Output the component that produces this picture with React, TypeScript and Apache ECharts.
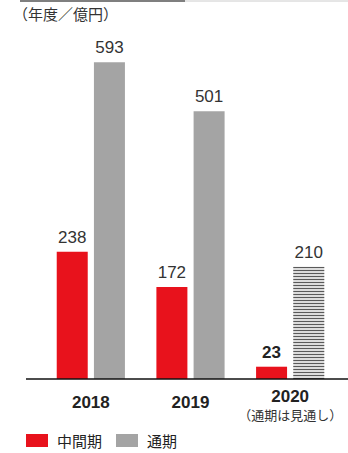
import React, { useEffect, useRef } from "react";
import * as echarts from "echarts";

const categories = ["2018", "2019", "2020"];
const interimValues = [238, 172, 23];
const fullYearValues = [593, 501, 210];
const seriesNames = ["中間期", "通期"];
const unitLabel = "（年度／億円）";
const forecastNote = "（通期は見通し）";

export default function App() {
  const ref = useRef<HTMLDivElement>(null);
  useEffect(() => {
    if (!ref.current) return;
    const chart = echarts.init(ref.current, undefined, { renderer: "svg" });
    const font = "'Noto Sans CJK JP', 'Liberation Sans', sans-serif";
    const numFont = "'Liberation Sans', Arial, sans-serif";
    chart.setOption({
      animation: false,
      textStyle: { fontFamily: font },
      graphic: [
        { type: "line", shape: { x1: 20, y1: 1, x2: 185, y2: 1 }, style: { stroke: "#555", lineWidth: 1.5 } },
        { type: "line", shape: { x1: 185, y1: 1, x2: 348, y2: 1 }, style: { stroke: "#ccc", lineWidth: 1 } },
        { type: "text", left: 13, top: 6, style: { text: unitLabel, fontSize: 15, fill: "#333", fontFamily: font } },
        { type: "line", shape: { x1: 26, y1: 379, x2: 348, y2: 379 }, style: { stroke: "#111", lineWidth: 1.5 }, z: 100 },
      ],
      legend: {
        left: 26,
        top: 433,
        padding: 0,
        itemWidth: 22,
        itemHeight: 13,
        itemGap: 14,
        icon: "rect",
        textStyle: { fontSize: 15, color: "#222", padding: [0, 0, 0, 4], fontFamily: font },
        data: seriesNames,
      },
      grid: { left: 41, right: 8, top: 5, bottom: 74 },
      xAxis: {
        type: "category",
        data: categories,
        axisLine: { show: false },
        axisTick: { show: false },
        axisLabel: {
          interval: 0,
          margin: 8,
          verticalAlign: "top",
          formatter: (v: string) =>
            v === "2020" ? `{b|${v}}\n{s|${forecastNote}}` : `{a|${v}}`,
          rich: {
            a: { fontSize: 17, fontWeight: "bold", color: "#222", lineHeight: 30, fontFamily: numFont },
            b: { fontSize: 17, fontWeight: "bold", color: "#222", lineHeight: 18, fontFamily: numFont },
            s: { fontSize: 13, color: "#333", lineHeight: 18, fontFamily: font },
          },
        },
      },
      yAxis: { type: "value", min: 0, max: 700, show: false, splitLine: { show: false } },
      series: [
        {
          name: seriesNames[0],
          type: "bar",
          barWidth: 31,
          barGap: "20%",
          itemStyle: { color: "#e8121c" },
          label: { show: true, position: "top", distance: 6, fontSize: 17, color: "#333", fontFamily: numFont },
          data: interimValues.map((v, i) =>
            i === 2 ? { value: v, label: { fontWeight: "bold", color: "#222" } } : v
          ),
        },
        {
          name: seriesNames[1],
          type: "bar",
          barWidth: 31,
          itemStyle: { color: "#a4a4a4" },
          label: { show: true, position: "top", distance: 6, fontSize: 17, color: "#333", fontFamily: numFont },
          data: fullYearValues.map((v, i) =>
            i === 2
              ? {
                  value: v,
                  itemStyle: {
                    color: "#dcdcdc",
                    decal: {
                      symbol: "rect",
                      symbolSize: 1,
                      dashArrayX: [[1, 0]],
                      dashArrayY: [1, 2],
                      rotation: 0,
                      color: "#5a5a5a",
                    },
                  },
                }
              : v
          ),
        },
      ],
    });
    return () => chart.dispose();
  }, []);
  return <div ref={ref} style={{ width: 348, height: 453, position: "absolute", left: 0, top: 0 }} />;
}
